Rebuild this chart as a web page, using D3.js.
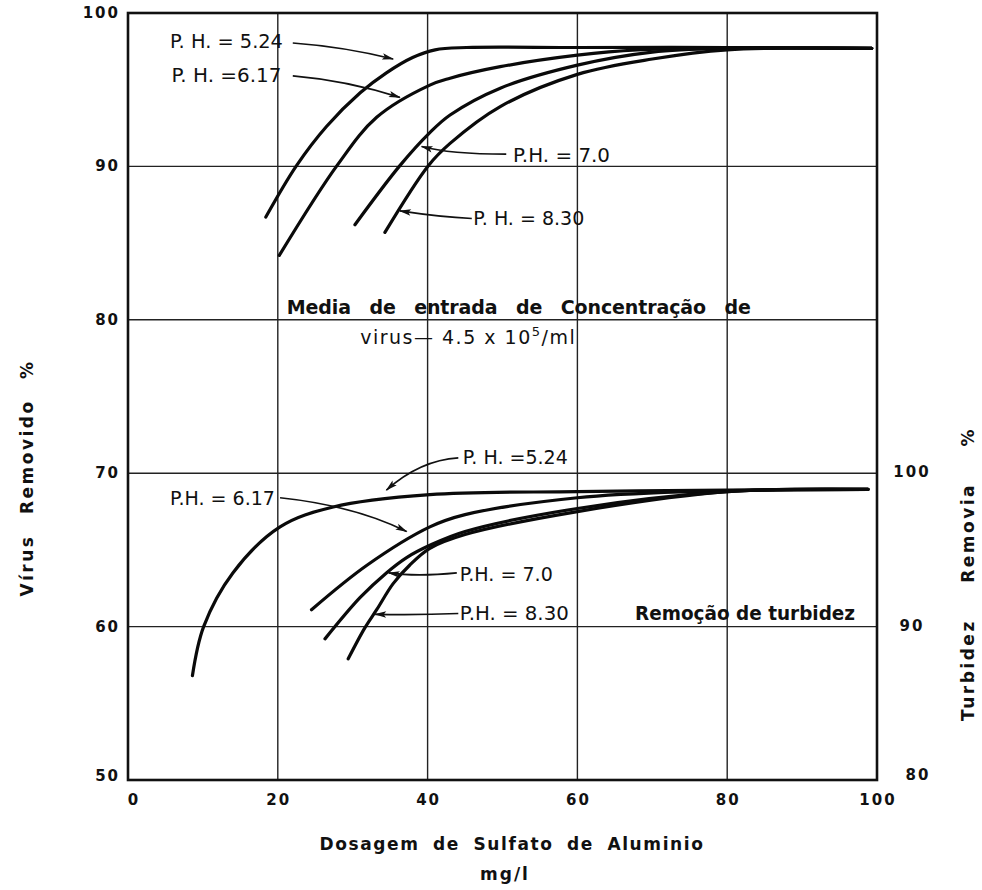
<!DOCTYPE html>
<html>
<head>
<meta charset="utf-8">
<script src="https://cdn.jsdelivr.net/npm/d3@7"></script>
<style>
  body { margin: 0; background: #fff; }
  svg { display: block; }
  .lbl { font-family: "DejaVu Sans", sans-serif; font-size: 19px; fill: #111; }
  .tick { font-family: "DejaVu Sans", sans-serif; font-weight: bold; font-size: 15px; fill: #111; letter-spacing: 2px; }
  .ttl { font-family: "DejaVu Sans", sans-serif; font-weight: bold; font-size: 17px; fill: #111; }
</style>
</head>
<body>
<div id="chart"></div>
<script>
// Dosagem de sulfato de aluminio (mg/l) x % removido
var xTicks = [0, 20, 40, 60, 80, 100];
var yTicks = [50, 60, 70, 80, 90, 100];
var y2Ticks = [80, 90, 100];

// virus removido (%) - left axis
var virus524 = [[18.4,86.7],[22.5,90.05],[26.5,92.6],[31.0,94.8],[34.5,96.1],[38.0,97.1],[41.0,97.6],[45.2,97.75],[60,97.75],[80,97.75],[99.3,97.7]];
var virus617 = [[20.2,84.2],[27.9,90.05],[33.2,93.2],[40.3,95.3],[43.0,95.75],[49.7,96.5],[60,97.25],[68,97.6],[80,97.7],[99.3,97.7]];
var virus70  = [[30.3,86.2],[36.3,90.05],[40.3,92.2],[43.0,93.35],[49.7,95.1],[60,96.6],[70,97.45],[80,97.7],[99.3,97.7]];
var virus830 = [[34.3,85.7],[40.1,90.05],[43.0,91.5],[49.7,93.9],[60,96.0],[70,97.0],[80,97.6],[99.3,97.7]];

// remocao de turbidez (%) - right axis
var turb524 = [[8.6,86.8],[10.1,90.0],[14.0,93.5],[20.3,96.5],[27.4,97.8],[40.3,98.6],[60,98.8],[80,98.9],[98.8,98.95]];
var turb617 = [[24.5,91.1],[31.9,94.0],[40.3,96.5],[45.0,97.3],[60,98.4],[75,98.8],[98.8,98.95]];
var turb70  = [[26.3,89.2],[31.0,91.9],[34.5,93.5],[37.2,94.5],[40.3,95.3],[45.0,96.2],[60,97.7],[80,98.8],[98.8,98.95]];
var turb830 = [[29.4,87.9],[31.6,89.9],[33.2,91.1],[35.4,92.8],[37.6,94.0],[40.3,95.1],[45.0,96.0],[60,97.5],[80,98.8],[98.8,98.95]];

var W = 982, H = 890;
var pL = 128, pR = 877, pT = 13, pB = 780;

var svg = d3.select("#chart").append("svg").attr("width", W).attr("height", H);

var x = d3.scaleLinear().domain([0, 100]).range([pL, pR]);
var y = d3.scaleLinear().domain([50, 100]).range([pB, pT]);
var y2 = d3.scaleLinear().domain([80, 130]).range([pB, pT]);

svg.append("defs").append("marker")
  .attr("id", "arr").attr("viewBox", "0 0 12 8").attr("refX", 11).attr("refY", 4)
  .attr("markerWidth", 14).attr("markerHeight", 8).attr("markerUnits", "userSpaceOnUse")
  .attr("orient", "auto")
  .append("path").attr("d", "M0,0.8L12,4L0,7.2L2.5,4Z").attr("fill", "#111");

// grid
svg.append("g").selectAll("line").data(xTicks.slice(1, -1)).join("line")
  .attr("x1", d => x(d)).attr("x2", d => x(d)).attr("y1", pT).attr("y2", pB)
  .attr("stroke", "#222").attr("stroke-width", 1.4);
svg.append("g").selectAll("line").data(yTicks.slice(1, -1)).join("line")
  .attr("x1", pL).attr("x2", pR).attr("y1", d => y(d)).attr("y2", d => y(d))
  .attr("stroke", "#222").attr("stroke-width", 1.4);
svg.append("rect").attr("x", pL).attr("y", pT).attr("width", pR - pL).attr("height", pB - pT)
  .attr("fill", "none").attr("stroke", "#111").attr("stroke-width", 2.6);

// tick labels
svg.append("g").selectAll("text").data(xTicks).join("text").attr("class", "tick")
  .attr("x", d => x(d) + (d === 0 ? 6 : 1)).attr("y", 805).attr("text-anchor", "middle").text(d => d);
svg.append("g").selectAll("text").data(yTicks).join("text").attr("class", "tick")
  .attr("x", 120).attr("y", d => y(d) + 5 - (d === 50 ? 4 : 0)).attr("text-anchor", "end").text(d => d);
svg.append("g").selectAll("text").data(y2Ticks).join("text").attr("class", "tick")
  .attr("x", d => d === 80 ? 918 : 912).attr("y", d => y2(d) + 4 - (d === 80 ? 4 : 0)).attr("text-anchor", "middle").text(d => d);

// axis titles
svg.append("text").attr("class", "ttl").attr("x", 512).attr("y", 850).attr("text-anchor", "middle")
  .attr("letter-spacing", 1.6).attr("word-spacing", 6).text("Dosagem de  Sulfato de Aluminio");
svg.append("text").attr("class", "ttl").attr("x", 505).attr("y", 880).attr("text-anchor", "middle")
  .attr("letter-spacing", 2).text("mg/l");
svg.append("text").attr("class", "ttl")
  .attr("transform", "translate(33,478) rotate(-90)").attr("text-anchor", "middle")
  .attr("letter-spacing", 2.5).attr("word-spacing", 12).text("Vírus Removido %");
svg.append("text").attr("class", "ttl")
  .attr("transform", "translate(974,574) rotate(-90)").attr("text-anchor", "middle")
  .attr("letter-spacing", 2.5).attr("word-spacing", 28).text("Turbidez Removia %");

// curves
var lineL = d3.line().x(d => x(d[0])).y(d => y(d[1])).curve(d3.curveCatmullRom.alpha(0.5));
var lineR = d3.line().x(d => x(d[0])).y(d => y2(d[1])).curve(d3.curveCatmullRom.alpha(0.5));
var curves = svg.append("g").attr("fill", "none").attr("stroke", "#0a0a0a").attr("stroke-width", 3.2).attr("stroke-linecap", "round");
[virus524, virus617, virus70, virus830].forEach(s => curves.append("path").attr("d", lineL(s)));
[turb524, turb617, turb70, turb830].forEach(s => curves.append("path").attr("d", lineR(s)));

// labels + arrows: [text, x, y, width, arrow from, ctrl, to, scale]
var notes = [
  ["P. H. = 5.24", 5.6, 97.7, 113, [22.0,98.04], [28.7,97.8], [35.4,97.0], y],
  ["P. H. =6.17", 5.8, 95.5, 110, [22.0,95.9], [29.2,95.6], [36.3,94.5], y],
  ["P.H. = 7.0", 51.4, 90.3, 97, [50.5,90.8], [43.0,90.8], [39.2,91.3], y],
  ["P. H. = 8.30", 46.1, 86.2, 111, [45.9,86.6], [41.7,86.7], [36.3,87.1], y],
  ["P. H. =5.24", 44.7, 100.63, 105, [44.1,101.0], [39.0,100.85], [34.5,98.9], y2],
  ["P.H. = 6.17", 5.6, 97.9, 105, [20.3,98.4], [30.1,97.9], [37.2,96.2], y2],
  ["P.H. = 7.0", 44.3, 93.0, 93, [43.9,93.5], [38.5,93.24], [34.8,93.5], y2],
  ["P.H. = 8.30", 44.3, 90.4, 109, [44.1,90.85], [38.5,90.74], [33.0,90.8], y2]
];
var ann = svg.append("g");
notes.forEach(n => {
  var s = n[7];
  ann.append("text").attr("class", "lbl").attr("x", x(n[1])).attr("y", s(n[2]))
    .attr("textLength", n[3]).attr("lengthAdjust", "spacingAndGlyphs").text(n[0]);
  var p = d3.path();
  p.moveTo(x(n[4][0]), s(n[4][1]));
  p.quadraticCurveTo(x(n[5][0]), s(n[5][1]), x(n[6][0]), s(n[6][1]));
  ann.append("path").attr("d", p.toString()).attr("fill", "none").attr("stroke", "#111")
    .attr("stroke-width", 1.6).attr("marker-end", "url(#arr)");
});

ann.append("text").attr("class", "lbl").attr("x", x(21.2)).attr("y", y(80.4))
  .attr("font-weight", "bold").attr("font-size", 16).attr("letter-spacing", 2).attr("word-spacing", 12)
  .attr("textLength", 466).attr("lengthAdjust", "spacing")
  .text("Media de entrada de Concentração de");
var v = ann.append("text").attr("class", "lbl").attr("x", x(31)).attr("y", y(78.4))
  .attr("font-size", 17).attr("letter-spacing", 1.5);
v.append("tspan").text("virus\u2014 4.5 x 10");
v.append("tspan").attr("dy", -8).attr("font-size", 13).text("5");
v.append("tspan").attr("dy", 8).text("/ml");
ann.append("text").attr("class", "lbl").attr("x", x(67.7)).attr("y", y2(90.4))
  .attr("font-weight", "bold").attr("font-size", 17)
  .attr("textLength", 220).attr("lengthAdjust", "spacingAndGlyphs").text("Remoção de turbidez");
</script>
</body>
</html>
